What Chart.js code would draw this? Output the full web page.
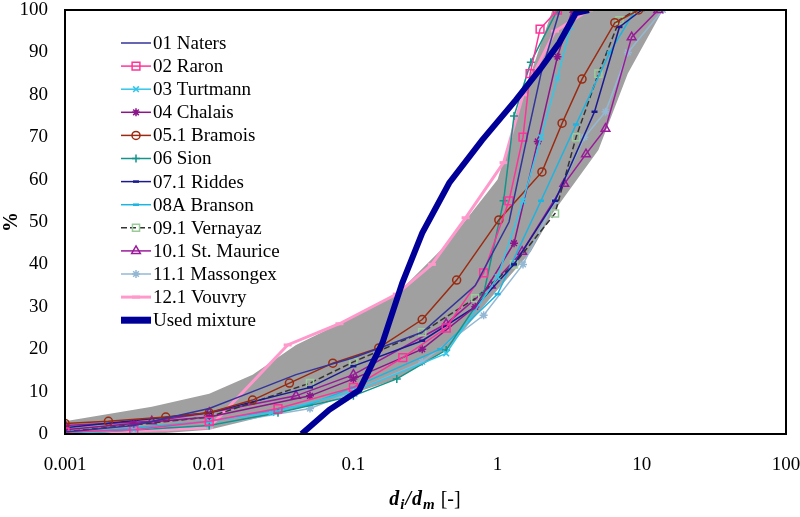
<!DOCTYPE html>
<html>
<head>
<meta charset="utf-8">
<script src="https://cdn.jsdelivr.net/npm/chart.js@4.4.0/dist/chart.umd.min.js"></script>
<style>
  body { margin: 0; background: #fff; }
  #wrap { width: 800px; height: 517px; }
</style>
</head>
<body>
<div id="wrap"><canvas id="grainChart"></canvas></div>
<script>
// assen
var xTickVals = [0.001, 0.01, 0.1, 1, 10, 100];
var xTickLabels = ['0.001', '0.01', '0.1', '1', '10', '100'];

// grijze band (omhullende van alle monsters)
var bandX = [0.001, 0.004, 0.01, 0.02, 0.04, 0.08, 0.2, 0.45, 1, 1.7, 2.4, 5, 8, 14];
var bandTop = [3, 6.4, 9.5, 14, 21, 26, 33, 45, 60, 85, 100, 100, 100, 100];
var bandBottom = [0, 0, 1, 3.5, 6, 8.5, 13, 20, 34, 43, 52, 67, 85, 100];

// monsters: d_i/d_m en % doorval
var natersX = [0.001, 0.003, 0.01, 0.02, 0.04, 0.1, 0.3, 0.7, 1.2, 1.6, 2.0, 2.7];
var natersY = [0.5, 2, 6, 10, 14, 18, 24, 35, 50, 70, 85, 100];
var raronX = [0.001, 0.003, 0.01, 0.03, 0.1, 0.22, 0.44, 0.8, 1.2, 1.5, 1.68, 1.97, 2.6];
var raronY = [0.5, 1, 3, 6, 11, 18, 25, 38, 55, 70, 85, 95.5, 100];
var turtmannX = [0.001, 0.003, 0.01, 0.027, 0.1, 0.44, 1, 1.5, 2, 2.6, 3.2, 3.5];
var turtmannY = [0, 1, 3, 5, 10, 19, 37, 55, 70, 84, 96, 100];
var chalaisX = [0.001, 0.003, 0.01, 0.05, 0.1, 0.3, 0.7, 1.3, 1.9, 2.6, 3.3];
var chalaisY = [1, 2.5, 4, 9, 13, 20, 30, 45, 69, 89, 100];
var bramoisX = [0.001, 0.002, 0.005, 0.01, 0.02, 0.036, 0.072, 0.15, 0.3, 0.52, 1.02, 2.03, 2.8, 3.85, 6.5, 9.5];
var bramoisY = [2.5, 3, 4, 5, 8, 12, 16.7, 20.3, 27, 36.3, 50.5, 61.8, 73.3, 83.7, 97, 100];
var sionX = [0.001, 0.01, 0.03, 0.1, 0.2, 0.44, 0.8, 1.1, 1.3, 1.7, 2.6];
var sionY = [0, 2, 5, 9, 13, 19.8, 33, 55, 75, 87.7, 100];
var riddesX = [0.001, 0.01, 0.05, 0.1, 0.3, 0.7, 1.3, 2.5, 4.7, 7, 10];
var riddesY = [1.5, 5, 11, 16, 22, 30, 40, 55, 76, 96, 100];
var bransonX = [0.001, 0.01, 0.05, 0.1, 0.4, 1, 2, 3.5, 6, 9];
var bransonY = [0, 3, 7, 11, 20, 33, 55, 73, 90, 100];
var vernayazX = [0.001, 0.01, 0.05, 0.1, 0.3, 0.7, 1.3, 2.5, 3.5, 5, 7, 9];
var vernayazY = [0.5, 4, 12, 17, 24, 32, 40, 52, 70, 85, 97.6, 100];
var mauriceX = [0.001, 0.004, 0.01, 0.04, 0.1, 0.44, 0.9, 1.48, 2.9, 4.1, 5.6, 8.5, 13];
var mauriceY = [2, 3, 5, 9, 14, 26, 35, 43, 59, 66, 72, 93.6, 100];
var massongexX = [0.001, 0.01, 0.05, 0.1, 0.3, 0.8, 1.5, 2.5, 4, 5.6, 8, 14];
var massongexY = [0, 2, 6, 10, 17, 28, 40, 55, 70, 76, 90, 100];
var vouvryX = [0.001, 0.002, 0.005, 0.01, 0.035, 0.08, 0.2, 0.35, 0.6, 1.1, 1.5, 2.5, 4.3];
var vouvryY = [0, 0.5, 1, 1.5, 21, 26, 33, 40, 51, 64, 80, 95, 100];
var mixX = [0.0437, 0.068, 0.11, 0.159, 0.218, 0.30, 0.462, 0.781, 1.34, 2.03, 2.67, 3.49, 4.3];
var mixY = [0, 5.7, 10.4, 21.5, 35.6, 47.4, 59.2, 69.3, 78.8, 86.6, 92.2, 99.3, 100];

function punten(xs, ys) {
    return xs.map(function (x, i) { return { x: x, y: ys[i] }; });
}

// één reeks met lijn en marker
function reeks(label, xs, ys, kleur, stijl, extra) {
    var ds = {
        label: label,
        data: punten(xs, ys),
        borderColor: kleur,
        borderWidth: 1.5,
        pointStyle: stijl || false,
        pointRadius: stijl ? 4 : 0,
        pointBorderColor: kleur,
        pointBackgroundColor: 'rgba(0,0,0,0)',
        pointBorderWidth: 1.5,
        fill: false,
        tension: 0,
        order: 0
    };
    return Object.assign(ds, extra || {});
}

var reeksen = [
    reeks('01 Naters', natersX, natersY, '#33339a', null),
    reeks('02 Raron', raronX, raronY, '#ff3399', 'rect', { pointRadius: 5.5 }),
    reeks('03 Turtmann', turtmannX, turtmannY, '#33c6e8', 'crossRot'),
    reeks('04 Chalais', chalaisX, chalaisY, '#8a168a', 'star'),
    reeks('05.1 Bramois', bramoisX, bramoisY, '#9a2a10', 'circle'),
    reeks('06 Sion', sionX, sionY, '#12948a', 'cross'),
    reeks('07.1 Riddes', riddesX, riddesY, '#1a1a90', 'line', { pointRadius: 3, pointBorderWidth: 2.5 }),
    reeks('08A Branson', bransonX, bransonY, '#1cb4e0', 'line', { pointRadius: 3, pointBorderWidth: 2.5 }),
    reeks('09.1 Vernayaz', vernayazX, vernayazY, '#333333', 'rect', { borderDash: [6, 3], pointBorderColor: '#9acc9a', pointRadius: 5 }),
    reeks('10.1 St. Maurice', mauriceX, mauriceY, '#9a1a9a', 'triangle', { pointRadius: 5 }),
    reeks('11.1 Massongex', massongexX, massongexY, '#94b8d4', 'star'),
    reeks('12.1 Vouvry', vouvryX, vouvryY, '#ff99cc', 'line', { borderWidth: 3, pointRadius: 4, pointBorderWidth: 3 }),
    reeks('Used mixture', mixX, mixY, '#000099', null, { borderWidth: 6, order: -1 })
];

var band = [
    {
        label: 'band boven', data: punten(bandX, bandTop),
        borderWidth: 0, pointRadius: 0, backgroundColor: '#a0a0a0',
        fill: '+1', tension: 0, order: 10
    },
    {
        label: 'band onder', data: punten(bandX, bandBottom),
        borderWidth: 0, pointRadius: 0, fill: false, tension: 0, order: 10
    }
];

// legenda binnen het plotvlak, lijn + marker zoals in Excel
var legendaPlugin = {
    id: 'legendaBinnen',
    afterDraw: function (chart) {
        var ctx = chart.ctx;
        var x0 = 121, y0 = 43, stap = 23.1;
        ctx.save();
        ctx.font = '19px "Liberation Serif", "Times New Roman", serif';
        ctx.textBaseline = 'middle';
        reeksen.forEach(function (ds, i) {
            var y = y0 + i * stap;
            ctx.strokeStyle = ds.borderColor;
            ctx.lineWidth = ds.label === 'Used mixture' ? 7 : ds.borderWidth;
            ctx.setLineDash(ds.borderDash || []);
            ctx.beginPath();
            ctx.moveTo(x0, y);
            ctx.lineTo(x0 + 30, y);
            ctx.stroke();
            ctx.setLineDash([]);
            if (ds.pointStyle && Chart.helpers && Chart.helpers.drawPoint) {
                ctx.strokeStyle = ds.pointBorderColor;
                ctx.fillStyle = ds.pointBackgroundColor;
                ctx.lineWidth = ds.pointBorderWidth;
                Chart.helpers.drawPoint(ctx, {
                    pointStyle: ds.pointStyle, radius: ds.pointRadius,
                    rotation: 0, borderWidth: ds.pointBorderWidth
                }, x0 + 15, y);
            }
            ctx.fillStyle = '#000';
            ctx.fillText(ds.label, x0 + 32, y + 1);
        });
        ctx.restore();
    }
};

// kader rond plotvlak en as-titel met subscripts
var kaderPlugin = {
    id: 'kader',
    afterDraw: function (chart) {
        var a = chart.chartArea, ctx = chart.ctx;
        ctx.save();
        ctx.strokeStyle = '#000';
        ctx.lineWidth = 2;
        ctx.strokeRect(a.left, a.top, a.right - a.left, a.bottom - a.top);

        var delen = [
            { t: 'd', f: 'italic bold 20px "Liberation Serif", serif', dy: 0 },
            { t: 'i', f: 'italic bold 15px "Liberation Serif", serif', dy: 5 },
            { t: '/', f: 'italic bold 20px "Liberation Serif", serif', dy: 0 },
            { t: 'd', f: 'italic bold 20px "Liberation Serif", serif', dy: 0 },
            { t: 'm', f: 'italic bold 15px "Liberation Serif", serif', dy: 5 },
            { t: ' [-]', f: '20px "Liberation Serif", serif', dy: 0 }
        ];
        var totaal = 0;
        delen.forEach(function (d) { ctx.font = d.f; totaal += ctx.measureText(d.t).width + 1; });
        var x = (a.left + a.right) / 2 - totaal / 2, y = 500;
        ctx.fillStyle = '#000';
        ctx.textBaseline = 'middle';
        delen.forEach(function (d) {
            ctx.font = d.f;
            ctx.fillText(d.t, x, y + d.dy);
            x += ctx.measureText(d.t).width + 1;
        });
        ctx.restore();
    }
};

var ctx = document.getElementById('grainChart').getContext('2d');
var grainChart = new Chart(ctx, {
    type: 'line',
    data: { datasets: band.concat(reeksen) },
    options: {
        responsive: true,
        maintainAspectRatio: false,
        animation: false,
        layout: { padding: { top: 10, right: 14, left: 0, bottom: 0 } },
        plugins: {
            legend: { display: false },
            tooltip: { enabled: false }
        },
        scales: {
            x: {
                type: 'logarithmic',
                min: 0.001,
                max: 100,
                grid: { display: false, drawTicks: false },
                border: { display: true, color: '#000', width: 2 },
                afterBuildTicks: function (scale) {
                    scale.ticks = xTickVals.map(function (v) { return { value: v }; });
                },
                afterFit: function (scale) {
                    scale.height = 83;
                    scale.paddingLeft = 0;
                    scale.paddingRight = 0;
                },
                ticks: {
                    autoSkip: false,
                    maxRotation: 0,
                    padding: 20,
                    color: '#000',
                    font: { family: '"Liberation Serif", serif', size: 19 },
                    callback: function (value, index) { return xTickLabels[index]; }
                }
            },
            y: {
                min: 0,
                max: 100,
                grid: { display: false, drawTicks: false },
                border: { display: true, color: '#000', width: 2 },
                afterFit: function (scale) {
                    scale.width = 65;
                    scale.paddingTop = 0;
                    scale.paddingBottom = 0;
                },
                ticks: {
                    stepSize: 10,
                    padding: 17,
                    color: '#000',
                    font: { family: '"Liberation Serif", serif', size: 19 }
                },
                title: {
                    display: true,
                    text: '%',
                    color: '#000',
                    padding: { top: 0, bottom: 0 },
                    font: { family: '"Liberation Serif", serif', size: 20, weight: 'bold' }
                }
            }
        }
    },
    plugins: [legendaPlugin, kaderPlugin]
});
</script>
</body>
</html>
